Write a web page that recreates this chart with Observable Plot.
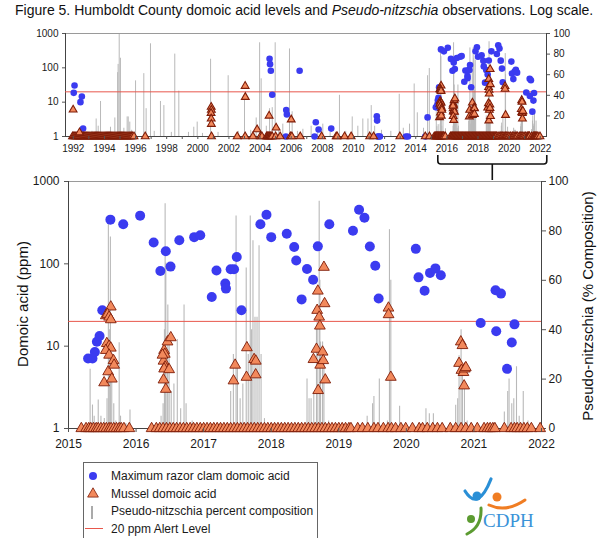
<!DOCTYPE html>
<html><head><meta charset="utf-8">
<script src="https://cdn.jsdelivr.net/npm/d3@7"></script>
<script src="https://cdn.jsdelivr.net/npm/@observablehq/plot@0.6"></script>
<style>
body{margin:0;background:#fff;}
#wrap{position:relative;width:598px;height:538px;overflow:hidden;font-family:"Liberation Sans",Arial,sans-serif;background:#fff;}
#title{position:absolute;left:15px;top:2px;font-size:14px;white-space:nowrap;color:#111;}
.ytitle{position:absolute;font-size:15px;white-space:nowrap;color:#111;transform:translate(-50%,-50%) rotate(-90deg);}
</style></head><body><div id="wrap">
<div id="title">Figure 5. Humboldt County domoic acid levels and <i>Pseudo-nitzschia</i> observations. Log scale.</div>
</div>
<script>
// ---------- DATA ----------
// Maximum razor clam domoic acid (ppm)
const clamYears = [1992.03,1992.08,1992.46,1992.55,1992.63,
2004.61,2004.64,2004.69,2004.78,2005.66,2005.68,2005.72,2006.54,2007.50,2007.58,2007.76,2008.57,
2011.50,2011.52,2011.55,2011.63,2011.70,2013.37,2013.50,2014.61,2014.76,
2015.29,2015.355,2015.39,2015.42,2015.46,2015.50,2015.62,2015.81,2016.06,2016.26,2016.36,2016.44,2016.51,2016.64,2016.86,2016.95,
2017.12,2017.19,2017.32,2017.33,2017.40,2017.45,2017.49,2017.56,2017.84,2017.93,2018.00,2018.23,2018.34,2018.37,2018.45,2018.53,2018.62,2018.69,2018.86,
2019.21,2019.30,2019.38,2019.46,2019.54,2019.59,2020.14,2020.18,2020.27,2020.35,2020.43,2020.51,
2021.10,2021.32,2021.33,2021.40,2021.49,2021.56,2021.60];
const clamPpm = [18.7,30.6,10,14.6,1.7,
183,128,82,16.4,1,5.9,4.4,82,1,2.6,1.6,1.7,
3.9,2.9,1,1,1,1,1,1,3.6,
7.1,7.1,8.5,11.3,13.3,27.3,344,302,385,182,82,142,92.5,193,211,222,
39.5,83,57.5,50,86,86,121,27.3,302,395,211,232,160,110,37,86.5,64,163,302,
252,454,363,162,95,38,152,68.5,47,77.6,88,72.5,
19.1,47.8,15.2,43.5,5.3,11.1,18.4];

// Mussel domoic acid, detections (ppm)
const musselYears = [1991.99,1992.40,
2000.86,2000.87,2000.85,2000.86,2000.87,2003.04,2003.05,2003.81,2004.58,2005.03,2006.00,
2015.527,2015.552,2015.626,2015.577,2015.601,2015.626,2015.567,2015.601,2015.626,2015.552,2015.601,2015.587,2015.641,2015.666,2015.675,
2016.415,2016.425,2016.406,2016.43,2016.415,2016.489,2016.406,2016.44,2016.465,2016.514,2016.391,
2017.442,2017.466,2017.634,2017.64,2017.747,2017.772,2017.77,
2018.625,2018.67,2018.68,2018.69,2018.695,2018.71,2018.72,2018.725,2018.76,2018.77,2018.78,2018.79,2018.80,
2019.735,2019.737,2019.77,
2020.78,2020.806,2020.83,2020.815,2020.845,2020.865,2020.855,2020.88];
const musselPpm = [6.0,1.3,
7.2,5.9,4.8,3.3,2.3,29.4,14,1.6,4.0,1.8,3.1,
3.6,23.5,30,24.4,22.6,21,10.8,10,9.5,8.9,7.8,4.9,4.0,6.7,5.9,
8.9,8.0,6.6,5.6,5.3,5.2,3.9,3.0,11.3,12.7,7.8,
3.8,5.9,4.2,9.6,6.9,6.6,4.5,
6.9,9.2,27.3,46.8,2.9,22.6,17.6,5.9,8.5,6.7,91,32.9,3.9,
29.1,24.2,4.2,
6.2,11.3,10.2,5.1,4.8,5.3,3.3,5.5];
// Mussel samples at the 1 ppm reporting floor (sample dates)
const musselFloorYears = [1991.95,1992.02,1992.09,1992.16,1992.23,1992.30,1992.37,1992.44,1992.51,1992.58,1992.65,1992.72,1992.79,1992.86,1992.93,
1993.00,1993.07,1993.14,1993.21,1993.28,1993.35,1993.42,1993.49,1993.56,1993.63,1993.70,1993.77,1993.84,1993.91,1993.98,
1994.05,1994.12,1994.19,1994.26,1994.33,1994.40,1994.47,1994.54,1994.61,1994.68,1994.75,1994.82,1994.89,1994.96,
1995.03,1995.10,1995.17,1995.24,1995.31,1995.38,1995.45,1995.52,1995.59,1995.66,1995.73,1995.80,1995.90,
1996.62,2000.88,2002.53,2003.04,2003.54,2004.02,2004.12,2004.42,2004.47,2004.52,2004.57,2004.62,2004.67,2004.72,2004.78,
2005.00,2005.29,2005.95,2006.04,2006.58,2007.95,2008.89,2008.95,2009.43,2009.85,2011.04,2011.29,2012.98,2014.61,2014.88,
2015.19,2015.26,2015.30,2015.33,2015.37,2015.41,2015.44,2015.48,2015.52,2015.56,2015.60,2015.63,2015.67,2015.71,2015.75,2015.78,2015.82,2015.90,
2016.23,2016.30,2016.35,2016.40,2016.45,2016.50,2016.55,2016.60,2016.65,2016.70,2016.75,2016.80,2016.85,2016.90,2016.95,
2017.00,2017.05,2017.10,2017.15,2017.20,2017.25,2017.30,2017.35,2017.40,2017.45,2017.50,2017.55,2017.60,2017.65,2017.70,2017.75,2017.80,2017.85,2017.90,2017.95,
2018.00,2018.05,2018.10,2018.15,2018.20,2018.25,2018.30,2018.35,2018.40,2018.45,2018.50,2018.55,2018.60,2018.65,2018.70,2018.75,2018.80,2018.85,2018.90,2018.95,
2019.00,2019.05,2019.10,2019.15,2019.18,2019.28,2019.35,2019.43,2019.52,2019.58,2019.66,2019.73,2019.78,2019.84,2019.92,2019.99,
2020.09,2020.19,2020.24,2020.31,2020.39,2020.46,2020.53,2020.65,2020.73,2020.81,2020.88,2020.96,
2021.05,2021.15,2021.20,2021.24,2021.28,2021.31,2021.45,2021.55,2021.60,2021.64,2021.69,2021.74,2021.79,2021.85,2021.98];
const musselFloorPpm = 1;

// Pseudo-nitzschia percent composition
const pnYears = [1993.20,1993.47,1993.60,1993.75,1994.10,1994.39,1994.67,1994.85,1994.88,1994.95,1995.03,1995.25,1995.46,1995.53,1995.63,1995.75,
1996.00,1996.53,1996.68,1996.96,1997.20,1997.60,1997.82,1998.30,1998.52,1998.78,1999.40,1999.74,1999.96,2000.30,2000.82,2001.30,2001.95,
2002.60,2003.00,2003.40,2003.75,2003.97,2004.07,2004.40,2004.61,2004.78,2004.97,2005.20,2005.46,2005.89,2006.06,2006.40,2006.75,
2007.28,2007.70,2008.03,2008.50,2009.10,2009.50,2009.92,2010.28,2010.60,2010.93,2011.14,2011.36,2011.80,2012.40,2012.94,
2013.20,2013.60,2013.90,2014.10,2014.50,2014.76,2014.87,
2015.25,2015.32,2015.355,2015.38,2015.44,2015.48,2015.53,2015.57,2015.59,2015.61,2015.62,2015.64,2015.67,2015.70,2015.75,2015.77,2015.85,2015.91,
2016.37,2016.40,2016.42,2016.43,2016.44,2016.46,2016.47,2016.49,2016.52,2016.56,2016.61,2016.66,2016.71,2016.74,2016.83,2016.95,2017.20,
2017.40,2017.44,2017.48,2017.50,2017.54,2017.58,2017.63,2017.66,2017.69,2017.71,2017.73,2017.76,2017.79,2017.82,2017.85,2017.90,2018.10,
2018.53,2018.56,2018.59,2018.63,2018.67,2018.68,2018.71,2018.72,2018.73,2018.76,2018.78,2018.85,
2019.42,2019.50,2019.52,2019.60,2019.72,2019.75,2019.77,2019.90,
2020.29,2020.34,2020.40,2020.73,2020.76,2020.78,2020.81,2020.83,2020.86,2020.90,
2021.45,2021.50,2021.52,2021.56,2021.59,2021.63,2021.67,2021.73,2021.80];
const pnPct = [5,17,10,34,4,9,18,62,70,99,76,8,19,19,14,6,
54,61,27,90,5,34,30,4,80,44,4,9,14,3,75,4,59,
5,36,6,18,91,56,10,27,28,91,8,12,85,24,5,7,
10,5,12,4,40,5,19,10,17,17,30,10,6,5,41,
8,12,51,23,8,59,66,
2,24,9.5,5,11.5,5,4,12,83.5,40,77.5,20,10,3,34.7,5,2,7.5,
5,10,40,91,67,30,50,38,15,18,36,8,50,10,3,2,2,
15,30,86,25,12,18,65,30,86,40,76,45,45,74,30,4,2,
20,12,12,14,41.5,43,92,60,35,35,29.5,3,
5,10,13,20,3,80.5,60,9,
8,6,6,9.4,12,29.5,40,24,19,3,
6.7,15,20,10,12,25,5,15,3];

const alertLevel = [20];
const logTicks = [1, 10, 100, 1000];
const topYearTicks = [1992,1993,1994,1995,1996,1997,1998,1999,2000,2001,2002,2003,2004,2005,2006,2007,2008,2009,2010,2011,2012,2013,2014,2015,2016,2017,2018,2019,2020,2021,2022];
const bottomYearTicks = [2015,2016,2017,2018,2019,2020,2021,2022];
const topPctTicks = [20,40,60,80,100];
const bottomPctTicks = [0,20,40,60,80,100];
const topDomain = [1991.5, 2022.4];
const bottomDomain = [2015, 2022];
const bracketYears = [2015.45, 2022.45];
const legendLabels = ["Maximum razor clam domoic acid","Mussel domoic acid","Pseudo-nitzschia percent composition","20 ppm Alert Level"];

// ---------- BUILD ----------
const clam = clamYears.map((y,i)=>({year:y, ppm:clamPpm[i]}));
const mussel = musselFloorYears.map(y=>({year:y, ppm:musselFloorPpm}))
  .concat(musselYears.map((y,i)=>({year:y, ppm:musselPpm[i]})));
const pn = pnYears.map((y,i)=>({year:y, pct:pnPct[i]}));
const inB = d => d.year >= bottomDomain[0] && d.year <= bottomDomain[1] + 0.05;

const C = {clam:"#3b3bf0", mFill:"#f2895c", mStroke:"#7e1c08", pn:"#b9b9b9", alert:"#e8574c"};
const baseStyle = {position:"absolute", left:"0px", top:"0px", background:"none", overflow:"visible",
  fontFamily:"'Liberation Sans', Arial, sans-serif", color:"#1a1a1a"};
const wrap = document.getElementById("wrap");

function panel(cfg){
  const pnChart = Plot.plot({
    width:598, height:cfg.height, marginTop:cfg.mt, marginBottom:cfg.mb, marginLeft:cfg.ml, marginRight:cfg.mr,
    style:{...baseStyle, fontSize:cfg.fs+"px"},
    x:{domain:cfg.domain, axis:null},
    y:{domain:[0,100]},
    marks:[
      Plot.ruleX(cfg.pn, {x:"year", y1:0, y2:"pct", stroke:C.pn, strokeWidth:cfg.pnW}),
      Plot.axisY(cfg.pctTicks, {anchor:"right", tickSize:cfg.ts, tickPadding:cfg.tpR, label:null, fontSize:cfg.fs, stroke:"#555"})
    ]
  });
  wrap.appendChild(pnChart);
  const logChart = Plot.plot({
    width:598, height:cfg.height, marginTop:cfg.mt, marginBottom:cfg.mb, marginLeft:cfg.ml, marginRight:cfg.mr,
    style:{...baseStyle, fontSize:cfg.fs+"px"},
    x:{domain:cfg.domain},
    y:{type:"log", domain:[1,1000]},
    marks:[
      Plot.frame({stroke:"#9a9a9a"}),
      Plot.frame({anchor:"left", stroke:"#444"}),
      Plot.frame({anchor:"bottom", stroke:"#444"}),
      Plot.frame({anchor:"right", stroke:"#444"}),
      Plot.ruleY(alertLevel, {y:d=>d, stroke:C.alert, strokeWidth:1}),
      Plot.dot(cfg.clam, {x:"year", y:"ppm", r:cfg.rc, fill:C.clam, symbol:"circle"}),
      Plot.dot(cfg.mussel, {x:"year", y:"ppm", r:cfg.rt, symbol:"triangle", fill:C.mFill, stroke:C.mStroke, strokeWidth:cfg.tsw}),
      Plot.axisY(logTicks, {anchor:"left", tickSize:cfg.ts, tickPadding:cfg.tpL, label:null, fontSize:cfg.fs, tickFormat:d=>String(d), stroke:"#555"}),
      Plot.axisX(cfg.xTicks, {anchor:"bottom", tickSize:cfg.ts, tickPadding:cfg.tpX, label:null, fontSize:cfg.fs, tickFormat:cfg.xFmt, stroke:"#555"})
    ]
  });
  wrap.appendChild(logChart);
  return logChart;
}

const topChart = panel({height:160, mt:33, mb:24, ml:65, mr:52, fs:10, domain:topDomain,
  pn, clam, mussel, pctTicks:topPctTicks, xTicks:topYearTicks, xFmt:d=>d%2===0?String(d):"",
  ts:3, tpL:4, tpR:4, tpX:5, rc:3.3, rt:2.9, tsw:1.1, pnW:1});
const botChart = panel({height:460, mt:181, mb:32, ml:68, mr:57, fs:12, domain:bottomDomain,
  pn:pn.filter(inB), clam:clam.filter(inB), mussel:mussel.filter(inB), pctTicks:bottomPctTicks, xTicks:bottomYearTicks, xFmt:d=>String(d),
  ts:4, tpL:5, tpR:3, tpX:7, rc:5, rt:4, tsw:0.9, pnW:1.1});

// axis titles
const t1 = document.createElement("div"); t1.className="ytitle"; t1.textContent="Domoic acid (ppm)";
t1.style.left="22px"; t1.style.top="304px"; wrap.appendChild(t1);
const t2 = document.createElement("div"); t2.className="ytitle"; t2.textContent="Pseudo-nitzschia (% Composition)";
t2.style.left="587px"; t2.style.top="306px"; wrap.appendChild(t2);

// decorations: bracket, legend, logo
const svg = d3.select(wrap).append("svg").attr("width",598).attr("height",538)
  .style("position","absolute").style("left","0px").style("top","0px");
const sx = topChart.scale("x");
const bx1 = sx.apply(bracketYears[0]), bx2 = sx.apply(bracketYears[1]), bm = (bx1+bx2)/2;
svg.append("path").attr("d",`M${bx1},155 V161 Q${bx1},164 ${bx1+3},164 H${bx2-3} Q${bx2},164 ${bx2},161 V155 M${bm},164 V180`)
  .attr("fill","none").attr("stroke","#111").attr("stroke-width",1.6);

const lg = svg.append("g").attr("font-family","'Liberation Sans', Arial, sans-serif").attr("font-size",12);
lg.append("rect").attr("x",83.5).attr("y",462.5).attr("width",234).attr("height",78).attr("fill","#fff").attr("stroke","#666");
lg.append("circle").attr("cx",93).attr("cy",476).attr("r",4).attr("fill",C.clam);
lg.append("path").attr("d",d3.symbol(d3.symbolTriangle, 50)()).attr("transform","translate(93,494)").attr("fill",C.mFill).attr("stroke",C.mStroke).attr("stroke-width",0.8);
lg.append("line").attr("x1",92).attr("x2",92).attr("y1",506).attr("y2",519).attr("stroke","#aaa").attr("stroke-width",2);
lg.append("line").attr("x1",85).attr("x2",103).attr("y1",528.5).attr("y2",528.5).attr("stroke",C.alert).attr("stroke-width",1);
[480,497.5,515,532.5].forEach((y,i)=>lg.append("text").attr("x",111).attr("y",y).attr("fill","#1a1a1a").text(legendLabels[i]));

const logo = svg.append("g");
logo.append("path").attr("d","M465,491 Q478,512 491,479").attr("fill","none").attr("stroke","#2a8fd6").attr("stroke-width",3.2).attr("stroke-linecap","round");
logo.append("circle").attr("cx",477).attr("cy",496).attr("r",4.5).attr("fill","#2a8fd6");
logo.append("circle").attr("cx",497).attr("cy",497).attr("r",4.5).attr("fill","#f07d23");
logo.append("path").attr("d","M489,505 Q506,513 525,500").attr("fill","none").attr("stroke","#f07d23").attr("stroke-width",3).attr("stroke-linecap","round");
logo.append("circle").attr("cx",471).attr("cy",519).attr("r",4).attr("fill","#5c9b31");
logo.append("path").attr("d","M481,508 Q482,527 467,534").attr("fill","none").attr("stroke","#5c9b31").attr("stroke-width",3).attr("stroke-linecap","round");
logo.append("text").attr("x",483).attr("y",527).attr("font-family","'Liberation Serif', serif").attr("font-size",19).attr("fill","#3a93d8").text("CDPH");
</script>
</body></html>
